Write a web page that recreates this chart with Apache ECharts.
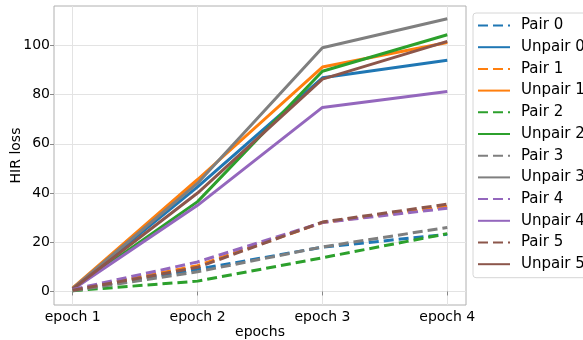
<!DOCTYPE html>
<html>
<head>
<meta charset="utf-8">
<script src="https://cdn.jsdelivr.net/npm/echarts@6/dist/echarts.min.js"></script>
<style>
  html, body { margin: 0; padding: 0; background: #fff; }
  #chart { width: 583px; height: 340px; }
</style>
</head>
<body>
<div id="chart"></div>
<script>
// data
const epochs = [1, 2, 3, 4];
const epochLabels = ['epoch 1', 'epoch 2', 'epoch 3', 'epoch 4'];
const yTicks = [0, 20, 40, 60, 80, 100];

const pair0 = [0.5, 9, 18, 23.2];
const unpair0 = [1.2, 42.5, 86.8, 94];
const pair1 = [0.5, 10.5, 28, 34.5];
const unpair1 = [1.5, 45.5, 91.2, 101.2];
const pair2 = [0.3, 4.2, 13.7, 23.5];
const unpair2 = [1.0, 36.5, 89.5, 104.3];
const pair3 = [0.3, 8, 18.1, 26];
const unpair3 = [1.2, 44, 99, 110.8];
const pair4 = [0.8, 12, 28, 33.8];
const unpair4 = [0.8, 35, 74.8, 81.3];
const pair5 = [0.5, 9.8, 28.2, 35.5];
const unpair5 = [1.0, 40, 86.3, 101.6];

const colors = ['#1f77b4', '#ff7f0e', '#2ca02c', '#7f7f7f', '#9467bd', '#8c564b'];
const pairs = [pair0, pair1, pair2, pair3, pair4, pair5];
const unpairs = [unpair0, unpair1, unpair2, unpair3, unpair4, unpair5];

const font = 'DejaVu Sans';

function mkSeries(name, vals, color, dashed) {
    return {
        name: name,
        type: 'line',
        symbol: 'none',
        data: vals.map((v, i) => [epochs[i], v]),
        lineStyle: { color: color, width: 3, type: dashed ? [10, 5] : 'solid' },
        itemStyle: { color: color },
        z: dashed ? 3 : 2,
    };
}

const series = [];
for (let i = 0; i < 6; i++) {
    series.push(mkSeries('Pair ' + i, pairs[i], colors[i], true));
    series.push(mkSeries('Unpair ' + i, unpairs[i], colors[i], false));
}

const chart = echarts.init(document.getElementById('chart'));
chart.setOption({
    animation: false,
    grid: {
        left: 54, right: 117, top: 6, bottom: 35,
        outerBoundsMode: 'none', containLabel: false,
        show: true, borderColor: '#b0b0b0', borderWidth: 1,
    },
    legend: {
        orient: 'vertical',
        left: 473,
        top: 13,
        padding: [5, 6, 6, 4],
        itemWidth: 32,
        itemHeight: 14,
        itemGap: 6.7,
        itemStyle: { opacity: 0, borderWidth: 0 },
        borderColor: '#d6d6d6',
        borderWidth: 1,
        borderRadius: 3,
        textStyle: { fontFamily: font, fontSize: 15, lineHeight: 14, color: '#000', padding: [0, 0, 0, 6] },
        data: series.map(s => s.name),
    },
    xAxis: {
        type: 'value',
        min: 0.85,
        max: 4.15,
        name: 'epochs',
        nameLocation: 'middle',
        nameGap: 20,
        nameMoveOverlap: false,
        nameTextStyle: { fontFamily: font, fontSize: 14, color: '#000', verticalAlign: 'top' },
        axisLine: { show: false },
        axisTick: { show: true, customValues: epochs, length: 4, lineStyle: { color: '#888' } },
        axisLabel: {
            customValues: epochs,
            fontFamily: font, fontSize: 14, color: '#000', margin: 5,
            formatter: v => epochLabels[epochs.indexOf(v)] || '',
        },
        splitLine: { show: true, lineStyle: { color: '#e3e3e3', width: 1 } },
    },
    yAxis: {
        type: 'value',
        min: -5.5,
        max: 116,
        name: 'HIR loss',
        nameLocation: 'middle',
        nameGap: 31,
        nameMoveOverlap: false,
        nameTextStyle: { fontFamily: font, fontSize: 14, color: '#000' },
        axisLine: { show: false },
        axisTick: { show: true, customValues: yTicks, length: 4, lineStyle: { color: '#888' } },
        axisLabel: { customValues: yTicks, fontFamily: font, fontSize: 14, color: '#000', margin: 4 },
        splitLine: { show: true, lineStyle: { color: '#e3e3e3', width: 1 } },
    },
    series: series,
});
</script>
</body>
</html>
